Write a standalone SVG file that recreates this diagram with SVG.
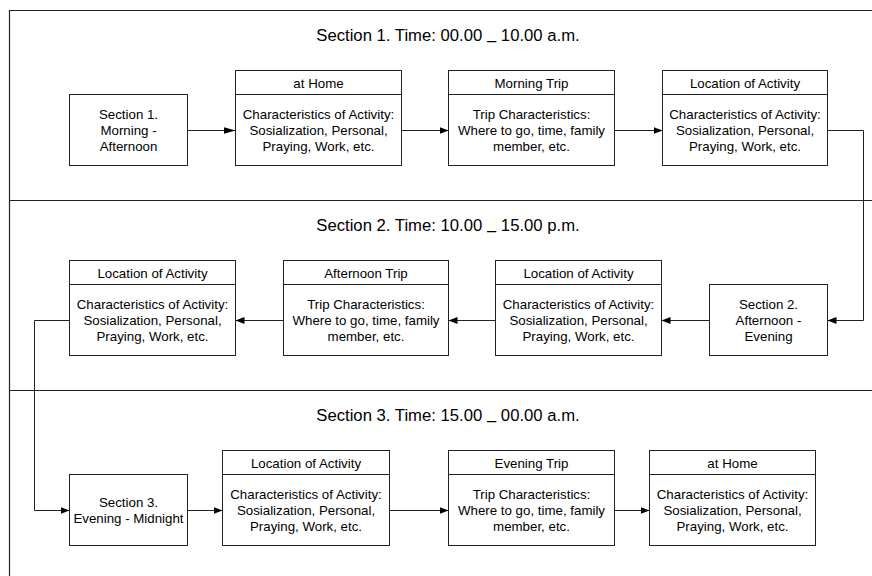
<svg xmlns="http://www.w3.org/2000/svg" width="872" height="576" viewBox="0 0 872 576">
<defs>
<style>
.frame{fill:none;stroke:#222;stroke-width:1.2}
.box{fill:#fff;stroke:#222;stroke-width:1}
.hl{stroke:#222;stroke-width:1}
.con{fill:none;stroke:#222;stroke-width:1}
text{font-family:"Liberation Sans",Arial,sans-serif;fill:#000;text-anchor:middle}
.t{font-size:13.3px}
.title{font-size:16.7px}
</style>
<marker id="ah" markerUnits="userSpaceOnUse" markerWidth="10" markerHeight="8" refX="9" refY="4" orient="auto">
<path d="M0,0.5 L9,4 L0,7.5 Z" fill="#000"/>
</marker>
<marker id="ahL" markerUnits="userSpaceOnUse" markerWidth="13" markerHeight="8" refX="12" refY="4" orient="auto">
<path d="M0,0.5 L12,4 L0,7.5 Z" fill="#000"/>
</marker>
</defs>
<rect width="872" height="576" fill="#fff"/>
<g id="frame">
<path class="frame" d="M9.5,576 V10.5 H872 M9.5,200.5 H872 M9.5,390.5 H872"/>
<text class="title" x="448" y="41">Section 1. Time: 00.00 <tspan dy="4.5">–</tspan><tspan dy="-4.5"> 10.00 a.m.</tspan></text>
<text class="title" x="448" y="231">Section 2. Time: 10.00 <tspan dy="4.5">–</tspan><tspan dy="-4.5"> 15.00 p.m.</tspan></text>
<text class="title" x="448" y="421">Section 3. Time: 15.00 <tspan dy="4.5">–</tspan><tspan dy="-4.5"> 00.00 a.m.</tspan></text>
</g>
<g id="connectors">
<path class="con" d="M187.5,130.5 H235.5" marker-end="url(#ahL)"/>
<path class="con" d="M401.5,130.5 H448.5" marker-end="url(#ah)"/>
<path class="con" d="M614.5,130.5 H662.5" marker-end="url(#ah)"/>
<path class="con" d="M827.5,130.5 H863.5 V320.5 H827.5" marker-end="url(#ah)"/>
<path class="con" d="M709.5,320.5 H661.5" marker-end="url(#ah)"/>
<path class="con" d="M495.5,320.5 H448.5" marker-end="url(#ah)"/>
<path class="con" d="M283.5,320.5 H235.5" marker-end="url(#ah)"/>
<path class="con" d="M69.5,320.5 H34.5 V510.5 H69.5" marker-end="url(#ah)"/>
<path class="con" d="M187.5,510.5 H222.5" marker-end="url(#ah)"/>
<path class="con" d="M389.5,510.5 H448.5" marker-end="url(#ah)"/>
<path class="con" d="M614.5,510.5 H649.5" marker-end="url(#ah)"/>
</g>
<g id="s1-start">
<rect class="box" x="69.5" y="94.5" width="118" height="71"/>
<text class="t" x="128.5" y="119">Section 1.</text>
<text class="t" x="128.5" y="135">Morning -</text>
<text class="t" x="128.5" y="151">Afternoon</text>
</g>
<g id="s1-home">
<rect class="box" x="235.5" y="70.5" width="166" height="95"/>
<line class="hl" x1="235.5" y1="94.5" x2="401.5" y2="94.5"/>
<text class="t" x="318.5" y="88">at Home</text>
<text class="t" x="318.5" y="119">Characteristics of Activity:</text>
<text class="t" x="318.5" y="135">Sosialization, Personal,</text>
<text class="t" x="318.5" y="151">Praying, Work, etc.</text>
</g>
<g id="s1-trip">
<rect class="box" x="448.5" y="70.5" width="166" height="95"/>
<line class="hl" x1="448.5" y1="94.5" x2="614.5" y2="94.5"/>
<text class="t" x="531.5" y="88">Morning Trip</text>
<text class="t" x="531.5" y="119">Trip Characteristics:</text>
<text class="t" x="531.5" y="135">Where to go, time, family</text>
<text class="t" x="531.5" y="151">member, etc.</text>
</g>
<g id="s1-location">
<rect class="box" x="662.5" y="70.5" width="165" height="95"/>
<line class="hl" x1="662.5" y1="94.5" x2="827.5" y2="94.5"/>
<text class="t" x="745" y="88">Location of Activity</text>
<text class="t" x="745" y="119">Characteristics of Activity:</text>
<text class="t" x="745" y="135">Sosialization, Personal,</text>
<text class="t" x="745" y="151">Praying, Work, etc.</text>
</g>
<g id="s2-start">
<rect class="box" x="709.5" y="284.5" width="118" height="71"/>
<text class="t" x="768.5" y="309">Section 2.</text>
<text class="t" x="768.5" y="325">Afternoon -</text>
<text class="t" x="768.5" y="341">Evening</text>
</g>
<g id="s2-location-a">
<rect class="box" x="495.5" y="260.5" width="166" height="95"/>
<line class="hl" x1="495.5" y1="284.5" x2="661.5" y2="284.5"/>
<text class="t" x="578.5" y="278">Location of Activity</text>
<text class="t" x="578.5" y="309">Characteristics of Activity:</text>
<text class="t" x="578.5" y="325">Sosialization, Personal,</text>
<text class="t" x="578.5" y="341">Praying, Work, etc.</text>
</g>
<g id="s2-trip">
<rect class="box" x="283.5" y="260.5" width="165" height="95"/>
<line class="hl" x1="283.5" y1="284.5" x2="448.5" y2="284.5"/>
<text class="t" x="366" y="278">Afternoon Trip</text>
<text class="t" x="366" y="309">Trip Characteristics:</text>
<text class="t" x="366" y="325">Where to go, time, family</text>
<text class="t" x="366" y="341">member, etc.</text>
</g>
<g id="s2-location-b">
<rect class="box" x="69.5" y="260.5" width="166" height="95"/>
<line class="hl" x1="69.5" y1="284.5" x2="235.5" y2="284.5"/>
<text class="t" x="152.5" y="278">Location of Activity</text>
<text class="t" x="152.5" y="309">Characteristics of Activity:</text>
<text class="t" x="152.5" y="325">Sosialization, Personal,</text>
<text class="t" x="152.5" y="341">Praying, Work, etc.</text>
</g>
<g id="s3-start">
<rect class="box" x="69.5" y="474.5" width="118" height="71"/>
<text class="t" x="128.5" y="506.5">Section 3.</text>
<text class="t" x="128.5" y="522.5">Evening - Midnight</text>
</g>
<g id="s3-location">
<rect class="box" x="222.5" y="450.5" width="167" height="95"/>
<line class="hl" x1="222.5" y1="474.5" x2="389.5" y2="474.5"/>
<text class="t" x="306" y="468">Location of Activity</text>
<text class="t" x="306" y="499">Characteristics of Activity:</text>
<text class="t" x="306" y="515">Sosialization, Personal,</text>
<text class="t" x="306" y="531">Praying, Work, etc.</text>
</g>
<g id="s3-trip">
<rect class="box" x="448.5" y="450.5" width="166" height="95"/>
<line class="hl" x1="448.5" y1="474.5" x2="614.5" y2="474.5"/>
<text class="t" x="531.5" y="468">Evening Trip</text>
<text class="t" x="531.5" y="499">Trip Characteristics:</text>
<text class="t" x="531.5" y="515">Where to go, time, family</text>
<text class="t" x="531.5" y="531">member, etc.</text>
</g>
<g id="s3-home">
<rect class="box" x="649.5" y="450.5" width="166" height="95"/>
<line class="hl" x1="649.5" y1="474.5" x2="815.5" y2="474.5"/>
<text class="t" x="732.5" y="468">at Home</text>
<text class="t" x="732.5" y="499">Characteristics of Activity:</text>
<text class="t" x="732.5" y="515">Sosialization, Personal,</text>
<text class="t" x="732.5" y="531">Praying, Work, etc.</text>
</g>
</svg>
